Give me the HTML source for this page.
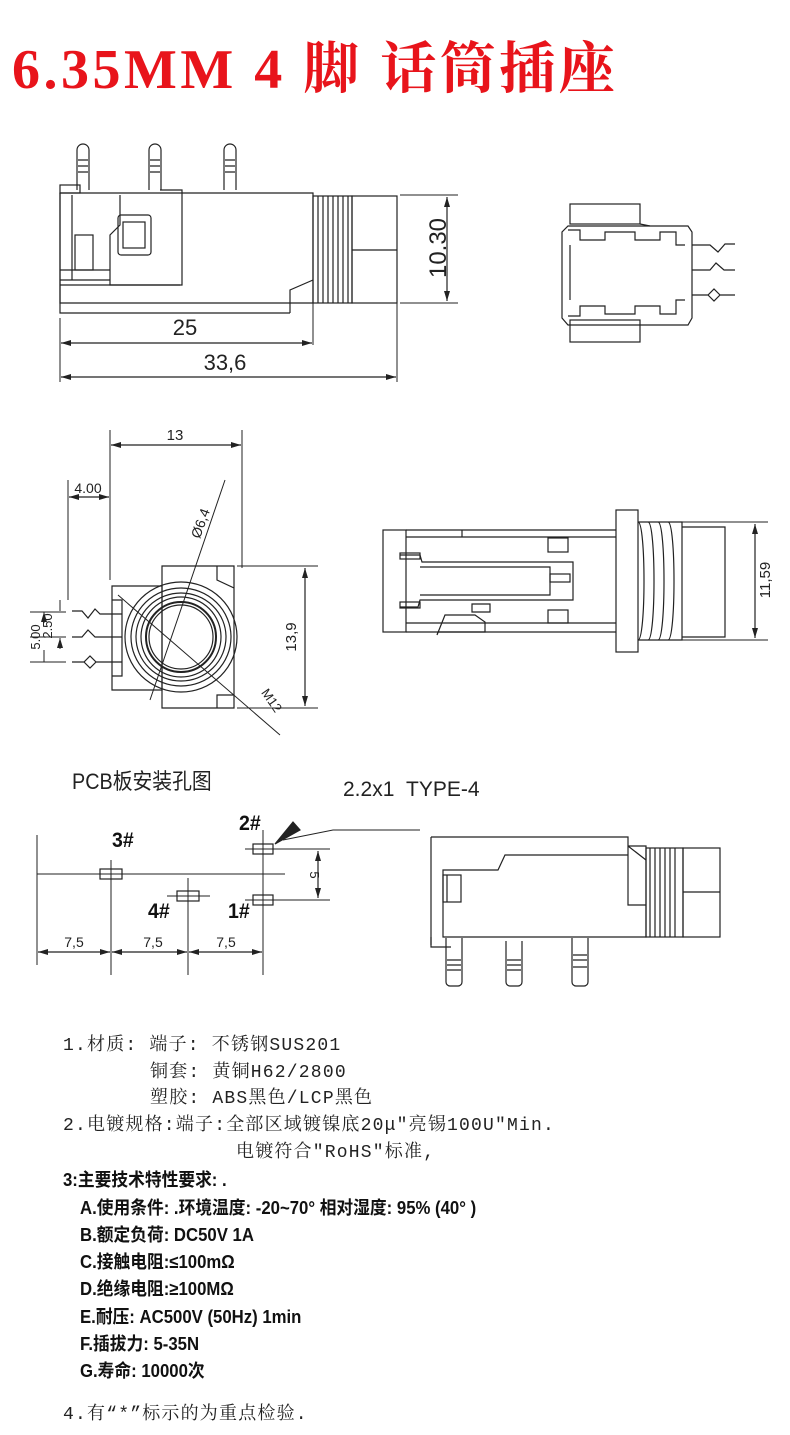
<!DOCTYPE html>
<html><head><meta charset="utf-8"><style>
html,body{margin:0;padding:0;background:#fff;}
body{width:790px;height:1435px;position:relative;overflow:hidden;}
svg{position:absolute;left:0;top:0;}
.t{position:absolute;white-space:nowrap;font-family:"Liberation Mono","Noto Serif CJK SC",serif;font-size:18px;letter-spacing:1.2px;color:#222;}
.b{position:absolute;white-space:nowrap;font-family:"Liberation Sans","Noto Sans CJK SC",sans-serif;font-weight:bold;font-size:18px;color:#111;transform:scaleX(0.93);transform-origin:left;}
</style></head><body>
<div style="position:absolute;left:12px;top:38px;font-family:'Liberation Serif','Noto Serif CJK SC',serif;font-weight:bold;font-size:56px;letter-spacing:3.5px;color:#e8141b;white-space:nowrap;line-height:64px;">6.35MM 4 脚 话筒插座</div>

<svg width="790" height="1435" viewBox="0 0 790 1435" fill="none" stroke="#222" stroke-width="1.2" font-family="Liberation Sans, sans-serif">
<defs>
<marker id="a" viewBox="0 0 10 6" refX="10" refY="3" markerWidth="10" markerHeight="6" orient="auto-start-reverse" markerUnits="userSpaceOnUse"><path d="M0,0L10,3L0,6z" fill="#222" stroke="none"/></marker>
</defs>
<g>
<path d="M77,190V150a6,6 0 0 1 12,0V190 M149,190V150a6,6 0 0 1 12,0V190 M224,190V150a6,6 0 0 1 12,0V190"/>
<path d="M78,160h10M78,166h10M78,172h10M150,160h10M150,166h10M150,172h10M225,160h10M225,166h10M225,172h10"/>
<rect x="60" y="185" width="20" height="8"/>
<path d="M60,193H313V303H60Z"/>
<path d="M60,193V313H290M290,313V290L313,280"/>
<path d="M72,195V280M160,190H182V285H110V235L120,225V195"/>
<rect x="118" y="215" width="33" height="40" rx="3"/><rect x="123" y="222" width="22" height="26"/>
<rect x="75" y="235" width="18" height="35"/>
<path d="M60,270H110M60,285H180M60,280H110"/>
<rect x="313" y="196" width="39" height="107"/>
<path d="M318,196V303M323,196V303M328,196V303M333,196V303M338,196V303M343,196V303M348,196V303"/>
<rect x="352" y="196" width="45" height="107"/><path d="M352,250H397"/>
<path d="M400,195H458M400,303H458" stroke-width="1"/>
<path d="M447,197V301" marker-start="url(#a)" marker-end="url(#a)"/>
<text x="0" y="0" transform="translate(446,248) rotate(-90)" font-size="24" fill="#222" stroke="none" text-anchor="middle">10.30</text>
<path d="M60,318V382M313,303V345M397,303V382" stroke-width="1"/>
<path d="M61,343H312" marker-start="url(#a)" marker-end="url(#a)"/>
<path d="M61,377H396" marker-start="url(#a)" marker-end="url(#a)"/>
<text x="185" y="335" font-size="22" fill="#222" stroke="none" text-anchor="middle">25</text>
<text x="225" y="370" font-size="22" fill="#222" stroke="none" text-anchor="middle">33,6</text>
</g>
<g>
<rect x="570" y="204" width="70" height="20"/><rect x="570" y="320" width="70" height="22"/>
<path d="M562,282V232L568,226H688L692,232V318L688,325H568L562,318Z"/>
<path d="M568,230H580V240H605V232H635V240H660V232H676V245H685M568,316H580V306H605V314H635V306H660V314H676V300H685M570,245V300M640,224L650,226"/>
<path d="M692,245H710L718,252L725,244H735M692,270H710L716,263L724,270H735M692,295H708L714,289L720,295L714,301L708,295M720,295H735"/>
</g>
<g>
<path d="M110,430V580M242,430V568" stroke-width="1"/>
<path d="M111,445H241" marker-start="url(#a)" marker-end="url(#a)"/>
<text x="175" y="440" font-size="15" fill="#222" stroke="none" text-anchor="middle">13</text>
<path d="M68,480V600" stroke-width="1"/>
<path d="M69,497H109" marker-start="url(#a)" marker-end="url(#a)"/>
<text x="88" y="493" font-size="14" fill="#222" stroke="none" text-anchor="middle">4.00</text>
<path d="M162,566H217V580L234,588V708H162Z M217,566H234V588"/>
<path d="M217,708V695H234"/>
<path d="M112,586H162V690H112Z M112,600H122V676H112"/>
<ellipse cx="181" cy="637" rx="56" ry="55"/><ellipse cx="181" cy="637" rx="50" ry="49"/>
<ellipse cx="181" cy="637" rx="45" ry="44"/><ellipse cx="181" cy="637" rx="40" ry="40"/>
<ellipse cx="181" cy="637" rx="35" ry="35" stroke-width="2"/><ellipse cx="181" cy="637" rx="32" ry="32"/>
<path d="M118,595L280,735M150,700L225,480" stroke-width="1"/>
<path d="M237,566H318M237,708H318" stroke-width="1"/>
<path d="M305,568V706" marker-start="url(#a)" marker-end="url(#a)"/>
<text transform="translate(296,637) rotate(-90)" font-size="15" fill="#222" stroke="none" text-anchor="middle">13,9</text>
<text transform="translate(205,525) rotate(-70)" font-size="14" fill="#222" stroke="none" text-anchor="middle">Ø6,4</text>
<text transform="translate(268,703) rotate(55)" font-size="13" fill="#222" stroke="none" text-anchor="middle">M12</text>
<path d="M72,611H82L88,618L95,609L100,614H122M72,637H82L88,630L95,637H122M72,662H84L90,656L96,662L90,668L84,662M96,662H122"/>
<path d="M30,612H66M30,637H66M30,662H66" stroke-width="1"/>
<path d="M60,600V611M60,649V638" marker-end="url(#a)" stroke-width="1"/>
<path d="M44,650V662M44,623V612" marker-end="url(#a)" stroke-width="1"/>
<text transform="translate(52,626) rotate(-90)" font-size="13" fill="#222" stroke="none" text-anchor="middle">2.50</text>
<text transform="translate(40,637) rotate(-90)" font-size="13" fill="#222" stroke="none" text-anchor="middle">5.00</text>
</g>
<g>
<rect x="383" y="530" width="23" height="102"/>
<path d="M406,530H616M406,537H616M406,623H616M406,632H616M462,530V537"/>
<rect x="616" y="510" width="22" height="142"/>
<path d="M638,522C646,522 646,640 638,640M648,522C656,522 656,640 648,640M658,522C666,522 666,640 658,640M668,522C676,522 676,640 668,640M638,522H682V640H638"/>
<path d="M682,527H725V637H682"/>
<path d="M682,522H768M682,640H768" stroke-width="1"/>
<path d="M755,524V638" marker-start="url(#a)" marker-end="url(#a)"/>
<text transform="translate(770,580) rotate(-90)" font-size="15" fill="#222" stroke="none" text-anchor="middle">11,59</text>
<path d="M400,555H420L422,562H573V600H420L418,607H400M420,567H550V595H420"/>
<rect x="400" y="553" width="20" height="6"/><rect x="400" y="602" width="20" height="6"/>
<rect x="550" y="574" width="20" height="8"/>
<rect x="548" y="538" width="20" height="14"/><rect x="548" y="610" width="20" height="13"/>
<path d="M437,635L445,615H475L485,622V632H438ZM472,604H490V612H472Z"/>
</g>
<g>
<path d="M37,835V965M111,860V975M188,878V975M263,830V975" stroke-width="1"/>
<path d="M37,874H285M245,849H330M245,900H330M167,896H210" stroke-width="1"/>
<rect x="100" y="869" width="22" height="10"/><rect x="177" y="891" width="22" height="10"/>
<rect x="253" y="844" width="20" height="10"/><rect x="253" y="895" width="20" height="10"/>
<path d="M318,851V898" marker-start="url(#a)" marker-end="url(#a)"/>
<text transform="translate(310,875) rotate(90)" font-size="13" fill="#222" stroke="none" text-anchor="middle">5</text>
<path d="M420,830H333L283,840" stroke-width="1"/>
<path d="M275,844L293,822L300,830Z" fill="#222"/>
<path d="M38,952H110" marker-start="url(#a)" marker-end="url(#a)"/>
<path d="M112,952H187" marker-start="url(#a)" marker-end="url(#a)"/>
<path d="M189,952H262" marker-start="url(#a)" marker-end="url(#a)"/>
<text x="74" y="947" font-size="14" fill="#222" stroke="none" text-anchor="middle">7,5</text>
<text x="153" y="947" font-size="14" fill="#222" stroke="none" text-anchor="middle">7,5</text>
<text x="226" y="947" font-size="14" fill="#222" stroke="none" text-anchor="middle">7,5</text>
</g>
<g>
<path d="M431,837H628V846M431,837V945M628,846H646V937H443V870H498L505,855H628"/>
<path d="M628,846V905H646M628,846L646,860"/>
<rect x="443" y="875" width="18" height="27"/><path d="M447,875V902"/>
<rect x="646" y="848" width="37" height="89"/>
<path d="M650,848V937M655,848V937M660,848V937M665,848V937M670,848V937M675,848V937"/>
<rect x="683" y="848" width="37" height="89"/><path d="M683,892H720"/>
<path d="M431,937V947H451"/>
<path d="M446,938V982a4,4 0 0 0 4,4h8a4,4 0 0 0 4,-4V938M506,941V982a4,4 0 0 0 4,4h8a4,4 0 0 0 4,-4V941M572,938V982a4,4 0 0 0 4,4h8a4,4 0 0 0 4,-4V938"/>
<path d="M447,960h14M447,965h14M447,970h14M507,960h14M507,965h14M507,970h14M573,955h14M573,960h14M573,967h14"/>
</g>
</svg>

<div style="position:absolute;left:72px;top:764px;font-family:'Liberation Sans','Noto Sans CJK SC',sans-serif;font-size:22px;color:#222;transform:scaleX(0.9);transform-origin:left;white-space:nowrap;">PCB板安装孔图</div>
<div style="position:absolute;left:343px;top:778px;font-family:'Liberation Sans',sans-serif;font-size:21px;color:#222;white-space:nowrap;">2.2x1&nbsp;&nbsp;TYPE-4</div>
<div class="b" style="left:239px;top:812px;font-size:21px;">2#</div>
<div class="b" style="left:112px;top:829px;font-size:21px;">3#</div>
<div class="b" style="left:148px;top:900px;font-size:21px;">4#</div>
<div class="b" style="left:228px;top:900px;font-size:21px;">1#</div>

<div class="t" style="left:63px;top:1030px;">1.材质: 端子: 不锈钢SUS201</div>
<div class="t" style="left:150px;top:1057px;">铜套: 黄铜H62/2800</div>
<div class="t" style="left:150px;top:1083px;">塑胶: ABS黑色/LCP黑色</div>
<div class="t" style="left:63px;top:1110px;">2.电镀规格:端子:全部区域镀镍底20μ"亮锡100U"Min.</div>
<div class="t" style="left:236px;top:1137px;">电镀符合"RoHS"标准,</div>
<div class="b" style="left:63px;top:1166px;">3:主要技术特性要求: .</div>
<div class="b" style="left:80px;top:1194px;">A.使用条件: .环境温度: -20~70° 相对湿度: 95% (40° )</div>
<div class="b" style="left:80px;top:1221px;">B.额定负荷: DC50V 1A</div>
<div class="b" style="left:80px;top:1248px;">C.接触电阻:≤100mΩ</div>
<div class="b" style="left:80px;top:1275px;">D.绝缘电阻:≥100MΩ</div>
<div class="b" style="left:80px;top:1303px;">E.耐压: AC500V (50Hz) 1min</div>
<div class="b" style="left:80px;top:1330px;">F.插拔力: 5-35N</div>
<div class="b" style="left:80px;top:1357px;">G.寿命: 10000次</div>
<div class="t" style="left:63px;top:1399px;">4.有“*”标示的为重点检验.</div>
</body></html>
